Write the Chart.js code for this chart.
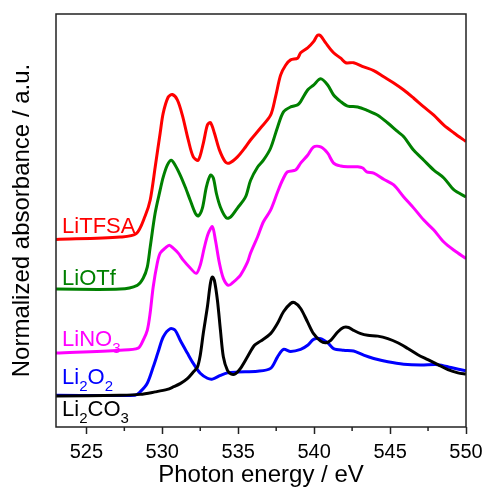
<!DOCTYPE html>
<html>
<head>
<meta charset="utf-8">
<script src="https://cdn.jsdelivr.net/npm/chart.js@4.4.0/dist/chart.umd.min.js"></script>
<style>
  html, body { margin: 0; padding: 0; background: #fff; }
  #wrap { width: 485px; height: 490px; }
</style>
</head>
<body>
<div id="wrap"><canvas id="chart" width="485" height="490"></canvas></div>
<script>
'use strict';

// tick values on the energy axis
let xTicks = [525, 530, 535, 540, 545, 550];
let minorTicks = [527.5, 532.5, 537.5, 542.5, 547.5];

// LiTFSA (red)
let litfsaE = [523.0, 527.22, 528.28, 528.87, 529.20, 529.53, 529.86, 530.06, 530.39, 530.66, 530.99, 531.32, 531.71, 532.04, 532.37, 532.70, 532.97, 533.17, 533.43, 533.76, 534.15, 534.42, 534.95, 535.48, 535.81, 536.47, 537.13, 537.46, 537.79, 538.12, 538.45, 538.91, 539.11, 539.57, 539.96, 540.23, 540.43, 540.76, 541.28, 541.75, 542.08, 542.60, 543.26, 543.92, 544.58, 545.24, 545.90, 546.56, 547.22, 547.88, 548.54, 549.21, 550.0];
let litfsaA = [4.54, 4.60, 4.68, 5.11, 5.49, 6.29, 7.12, 7.60, 7.99, 8.05, 7.92, 7.55, 6.95, 6.54, 6.46, 6.87, 7.31, 7.37, 7.12, 6.71, 6.42, 6.39, 6.54, 6.78, 6.95, 7.24, 7.55, 8.00, 8.52, 8.76, 8.89, 8.93, 9.06, 9.18, 9.33, 9.49, 9.47, 9.30, 9.06, 8.93, 8.82, 8.82, 8.72, 8.63, 8.48, 8.33, 8.16, 7.96, 7.75, 7.55, 7.31, 7.12, 6.91];

// LiOTf (green)
let liotfE = [523.0, 527.22, 528.35, 528.74, 529.01, 529.20, 529.53, 529.86, 530.06, 530.33, 530.59, 530.85, 531.18, 531.51, 531.84, 532.17, 532.37, 532.64, 532.90, 533.17, 533.36, 533.56, 533.83, 534.22, 534.49, 534.95, 535.48, 535.81, 536.27, 536.66, 537.13, 537.59, 537.98, 538.45, 538.91, 539.11, 539.57, 539.96, 540.43, 540.89, 541.28, 541.75, 542.21, 542.87, 543.53, 544.19, 544.85, 545.51, 545.90, 546.56, 547.22, 547.88, 548.54, 549.21, 550.0];
let liotfA = [3.34, 3.34, 3.43, 3.60, 3.87, 4.35, 5.18, 5.74, 6.05, 6.34, 6.46, 6.34, 6.10, 5.81, 5.49, 5.18, 5.11, 5.30, 5.81, 6.10, 6.03, 5.66, 5.32, 5.06, 5.08, 5.30, 5.57, 5.97, 6.29, 6.46, 6.75, 7.26, 7.63, 7.75, 7.80, 7.88, 8.16, 8.28, 8.43, 8.28, 8.04, 7.88, 7.77, 7.75, 7.66, 7.55, 7.36, 7.15, 7.03, 6.70, 6.46, 6.22, 6.03, 5.74, 5.57];

// LiNO3 (magenta)
let lino3E = [523.0, 527.22, 528.41, 528.74, 529.01, 529.20, 529.40, 529.67, 529.86, 530.19, 530.46, 530.72, 531.05, 531.38, 531.84, 532.24, 532.50, 532.77, 533.03, 533.30, 533.50, 533.76, 534.02, 534.35, 534.68, 535.15, 535.61, 535.81, 536.27, 536.66, 537.13, 537.59, 537.92, 538.25, 538.78, 539.11, 539.57, 539.96, 540.43, 540.89, 541.28, 541.75, 542.21, 542.87, 543.20, 543.46, 543.92, 544.58, 545.24, 545.90, 546.56, 547.22, 547.88, 548.54, 549.21, 550.0];
let lino3A = [1.79, 1.86, 1.91, 2.10, 2.34, 2.76, 3.39, 3.97, 4.21, 4.33, 4.40, 4.33, 4.21, 4.04, 3.85, 3.72, 3.92, 4.35, 4.69, 4.85, 4.52, 3.97, 3.60, 3.43, 3.51, 3.68, 3.99, 4.21, 4.60, 4.97, 5.25, 5.69, 5.98, 6.18, 6.22, 6.39, 6.58, 6.78, 6.78, 6.63, 6.39, 6.32, 6.30, 6.30, 6.27, 6.18, 6.15, 6.00, 5.86, 5.57, 5.30, 5.01, 4.77, 4.48, 4.28, 4.08];

// Li2O2 (blue)
let li2o2E = [523.0, 528.21, 528.54, 529.01, 529.40, 529.73, 530.06, 530.52, 530.85, 531.18, 531.65, 532.04, 532.50, 532.97, 533.30, 533.83, 534.29, 534.95, 536.27, 537.13, 537.59, 537.98, 538.45, 539.11, 539.57, 539.96, 540.43, 540.89, 541.28, 541.94, 542.60, 543.26, 543.92, 544.85, 545.90, 547.03, 548.15, 549.01, 550.0];
let li2o2A = [0.77, 0.77, 0.85, 1.06, 1.45, 1.82, 2.18, 2.38, 2.34, 2.10, 1.79, 1.54, 1.30, 1.18, 1.16, 1.25, 1.31, 1.33, 1.35, 1.42, 1.70, 1.88, 1.83, 1.88, 1.98, 2.12, 2.14, 2.04, 1.90, 1.86, 1.84, 1.74, 1.66, 1.58, 1.52, 1.50, 1.51, 1.44, 1.36];

// Li2CO3 (black)
let li2co3E = [523.0, 527.22, 528.54, 529.53, 530.33, 530.72, 531.18, 531.65, 532.04, 532.31, 532.50, 532.70, 532.97, 533.17, 533.30, 533.43, 533.63, 533.83, 534.02, 534.29, 534.55, 534.82, 535.15, 535.61, 536.07, 536.47, 537.13, 537.59, 537.98, 538.45, 538.71, 539.11, 539.57, 539.96, 540.43, 540.76, 541.09, 541.55, 541.94, 542.27, 542.60, 543.07, 543.53, 544.19, 544.85, 545.51, 546.17, 546.83, 547.49, 548.15, 548.81, 549.47, 550.0];
let li2co3A = [0.75, 0.77, 0.79, 0.85, 0.91, 0.97, 1.05, 1.17, 1.33, 1.45, 1.74, 2.27, 2.91, 3.48, 3.63, 3.55, 3.07, 2.34, 1.70, 1.37, 1.28, 1.29, 1.42, 1.70, 1.98, 2.08, 2.26, 2.51, 2.79, 2.99, 3.01, 2.87, 2.54, 2.26, 2.08, 2.04, 2.10, 2.30, 2.41, 2.41, 2.34, 2.26, 2.22, 2.20, 2.14, 2.04, 1.90, 1.75, 1.63, 1.51, 1.39, 1.31, 1.28];

// curve names; the numbers are written as subscripts
let seriesNames = [
  [['Li'], ['TFSA']],
  [['Li'], ['OTf']],
  [['Li'], ['NO'], ['3', 'sub']],
  [['Li'], ['2', 'sub'], ['O'], ['2', 'sub']],
  [['Li'], ['2', 'sub'], ['CO'], ['3', 'sub']]
];
let seriesColors = ['#ff0000', '#008000', '#ff00ff', '#0000ff', '#000000'];
// where each name sits (energy, absorbance of the text baseline)
let nameE = 523.4;
let nameA = [4.69, 3.43, 1.96, 1.03, 0.26];

const FONT = "'Liberation Sans', Arial, sans-serif";

function toPoints(xs, ys){
  return xs.map((v, i) => ({x: v, y: ys[i]}));
}

function makeSet(label, xs, ys, color){
  return {
    label: label,
    data: toPoints(xs, ys),
    borderColor: color,
    backgroundColor: color,
    borderWidth: 3,
    pointRadius: 0,
    tension: 0.3,
    fill: false
  };
}

let decorPlugin = {
  id: 'decor',
  afterDraw(chart){
    const ctx = chart.ctx;
    const a = chart.chartArea;
    const x = chart.scales.x;
    const y = chart.scales.y;
    ctx.save();
    ctx.strokeStyle = '#222';
    ctx.lineWidth = 1.5;
    ctx.strokeRect(a.left, a.top, a.right - a.left, a.bottom - a.top);

    // short minor ticks
    minorTicks.forEach(v => {
      let px = x.getPixelForValue(v);
      ctx.beginPath();
      ctx.moveTo(px, a.bottom);
      ctx.lineTo(px, a.bottom + 4);
      ctx.stroke();
    });

    // names of the curves
    ctx.textBaseline = 'alphabetic';
    ctx.textAlign = 'left';
    seriesNames.forEach((parts, i) => {
      let px = x.getPixelForValue(nameE);
      let py = y.getPixelForValue(nameA[i]);
      ctx.fillStyle = seriesColors[i];
      parts.forEach(p => {
        let sub = p[1] === 'sub';
        ctx.font = (sub ? '15px ' : '22px ') + FONT;
        ctx.fillText(p[0], px, sub ? py + 7 : py);
        px += ctx.measureText(p[0]).width;
      });
    });
    ctx.restore();
  }
};

let chart = new Chart(document.getElementById('chart'), {
  type: 'line',
  data: {
    datasets: [
      makeSet('Li2CO3', li2co3E, li2co3A, seriesColors[4]),
      makeSet('Li2O2', li2o2E, li2o2A, seriesColors[3]),
      makeSet('LiNO3', lino3E, lino3A, seriesColors[2]),
      makeSet('LiOTf', liotfE, liotfA, seriesColors[1]),
      makeSet('LiTFSA', litfsaE, litfsaA, seriesColors[0])
    ]
  },
  options: {
    responsive: false,
    animation: false,
    layout: { padding: { top: 14, right: 19, left: 0, bottom: 0 } },
    plugins: {
      legend: { display: false },
      tooltip: { enabled: false }
    },
    scales: {
      x: {
        type: 'linear',
        min: 523,
        max: 550,
        afterBuildTicks: scale => { scale.ticks = xTicks.map(v => ({value: v})); },
        afterFit: scale => {
          scale.height = 63;
          scale.paddingLeft = 0;
          scale.paddingRight = 0;
        },
        grid: {
          display: true,
          drawOnChartArea: false,
          drawTicks: true,
          tickLength: 7,
          tickColor: '#222',
          tickWidth: 1.5
        },
        border: { display: false },
        ticks: {
          padding: 6,
          maxRotation: 0,
          color: '#000',
          font: { family: FONT, size: 20 }
        },
        title: {
          display: true,
          text: 'Photon energy / eV',
          color: '#000',
          padding: { top: 0, bottom: 0 },
          font: { family: FONT, size: 24 }
        }
      },
      y: {
        min: 0,
        max: 10,
        afterFit: scale => { scale.width = 56; },
        grid: { display: false },
        border: { display: false },
        ticks: { display: false },
        title: {
          display: true,
          text: 'Normalized absorbance / a.u.',
          color: '#000',
          padding: { top: 8, bottom: 0 },
          font: { family: FONT, size: 24 }
        }
      }
    }
  },
  plugins: [decorPlugin]
});
</script>
</body>
</html>
